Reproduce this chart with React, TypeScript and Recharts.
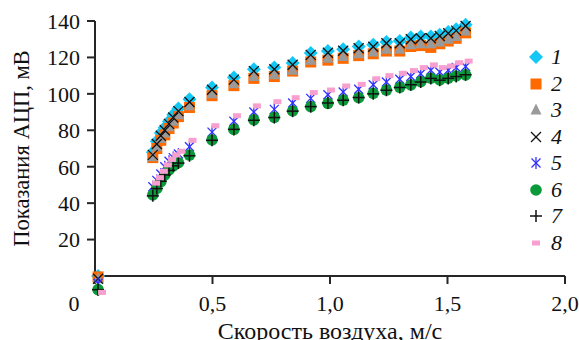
import React from "react";
import { ScatterChart, Scatter, XAxis, YAxis, Legend, Label } from "recharts";

// air speed, m/s (series 1-7 share these)
const SPEED = [0.013, 0.246, 0.263, 0.28, 0.297, 0.315, 0.333, 0.355, 0.402, 0.498, 0.591, 0.676, 0.763, 0.841, 0.918, 0.991, 1.056, 1.122, 1.184, 1.24, 1.297, 1.344, 1.386, 1.429, 1.467, 1.503, 1.537, 1.577];
// series 8 is read slightly to the right
const SPEED_8 = [0.03, 0.26, 0.276, 0.293, 0.31, 0.328, 0.346, 0.368, 0.415, 0.512, 0.604, 0.689, 0.776, 0.854, 0.931, 1.004, 1.069, 1.135, 1.197, 1.253, 1.31, 1.357, 1.399, 1.442, 1.48, 1.516, 1.55, 1.59];

// ADC readings, mV
const S1 = [0, 68, 74, 78.5, 81.5, 85, 88.5, 92, 97, 103.5, 109, 113.5, 114.5, 117, 122.5, 123.5, 124.5, 126, 127, 128.5, 129, 131, 131.5, 131.5, 132.5, 134, 135.5, 138];
const S2 = [-0.5, 65, 70, 74.5, 77.5, 81, 84, 87.5, 92.5, 99, 104.5, 108.5, 109.5, 112.5, 117.5, 118.5, 119.5, 121, 122, 123.5, 123.5, 126, 126.5, 125.5, 127.5, 129, 130.5, 133.5];
const S3 = [-1.5, 65.5, 71, 75.5, 78.5, 82, 85, 88.5, 93.5, 100, 105.5, 109.5, 110.5, 113, 118.5, 119.5, 120.5, 122, 123, 124.5, 124.5, 127, 127.5, 127.5, 128.5, 130, 131.5, 134.5];
const S4 = [-1.5, 66.5, 72.5, 77, 80, 83.5, 87, 90.5, 95.5, 102.3, 107.8, 112.5, 113.5, 116, 121.4, 122.6, 123.7, 125, 125.9, 127.8, 127.8, 130, 130.5, 130.5, 131.8, 133.3, 134.7, 137.3];
const S5 = [-4, 49, 52.5, 56, 60, 63, 65, 67, 71, 79, 85, 90, 91.5, 95, 97.5, 99.5, 101, 102.5, 105, 106.5, 108, 109.5, 111, 113, 112, 113, 114.5, 115];
const S6 = [-7.5, 44.5, 48.1, 51.8, 55.5, 58.2, 60.4, 62.2, 66.4, 74.7, 80.5, 85.7, 87.1, 90.6, 93, 94.8, 96.6, 97.9, 100.3, 102.1, 103.6, 104.9, 106.7, 108.6, 107.6, 108.6, 109.8, 110.4];
const S7 = [-7.5, 44, 48, 52, 55.5, 58, 60.5, 62, 66, 74.5, 80.5, 85.5, 87, 90.5, 93, 95, 96.5, 98, 100, 102, 103.5, 105, 106.5, 108.5, 107.5, 108.5, 109.5, 110.5];
const S8 = [-9, 51, 54, 57.5, 61, 64, 66.5, 68.5, 74.5, 82.5, 88, 93.4, 95.7, 97.9, 100.7, 102.1, 104.3, 105.2, 108.3, 110, 111.3, 112.8, 114.4, 115.9, 114.4, 115.3, 117.1, 118];

const X_TICKS = [0, 0.5, 1, 1.5, 2];
const Y_TICKS = [20, 40, 60, 80, 100, 120, 140];

type Kind = "diamond" | "square" | "triangle" | "cross" | "star" | "circle" | "plus" | "dash";

const SERIES: { name: string; kind: Kind; xs: number[]; ys: number[] }[] = [
  { name: "1", kind: "diamond", xs: SPEED, ys: S1 },
  { name: "2", kind: "square", xs: SPEED, ys: S2 },
  { name: "3", kind: "triangle", xs: SPEED, ys: S3 },
  { name: "4", kind: "cross", xs: SPEED, ys: S4 },
  { name: "5", kind: "star", xs: SPEED, ys: S5 },
  { name: "6", kind: "circle", xs: SPEED, ys: S6 },
  { name: "7", kind: "plus", xs: SPEED, ys: S7 },
  { name: "8", kind: "dash", xs: SPEED_8, ys: S8 },
];

const FONT = '"Liberation Serif", "Times New Roman", serif';
const AXIS = "#262626";

function Marker({ kind, cx, cy }: { kind: Kind; cx: number; cy: number }) {
  switch (kind) {
    case "diamond":
      return <polygon points={`${cx},${cy - 7} ${cx + 7},${cy} ${cx},${cy + 7} ${cx - 7},${cy}`} fill="#14c8f6" />;
    case "square":
      return <rect x={cx - 5.5} y={cy - 5.5} width={11} height={11} fill="#ff6a00" />;
    case "triangle":
      return <polygon points={`${cx},${cy - 6.5} ${cx + 5.5},${cy + 4.5} ${cx - 5.5},${cy + 4.5}`} fill="#9a9a9a" />;
    case "cross":
      return (
        <g stroke="#111" strokeWidth={1.3}>
          <line x1={cx - 5} y1={cy - 5} x2={cx + 5} y2={cy + 5} />
          <line x1={cx - 5} y1={cy + 5} x2={cx + 5} y2={cy - 5} />
        </g>
      );
    case "star":
      return (
        <g stroke="#3030ff" strokeWidth={1.3}>
          <line x1={cx} y1={cy - 6} x2={cx} y2={cy + 6} />
          <line x1={cx - 4.5} y1={cy - 4.5} x2={cx + 4.5} y2={cy + 4.5} />
          <line x1={cx - 4.5} y1={cy + 4.5} x2={cx + 4.5} y2={cy - 4.5} />
        </g>
      );
    case "circle":
      return <circle cx={cx} cy={cy} r={5.8} fill="#0a9a3a" />;
    case "plus":
      return (
        <g stroke="#111" strokeWidth={1.5}>
          <line x1={cx - 6} y1={cy} x2={cx + 6} y2={cy} />
          <line x1={cx} y1={cy - 6} x2={cx} y2={cy + 6} />
        </g>
      );
    default:
      return <rect x={cx - 4} y={cy - 2.5} width={8} height={5} fill="#f7a0cf" />;
  }
}

function XTick({ x, y, payload }: any) {
  const v = payload.value as number;
  const text = v === 0 ? "0" : v.toFixed(1).replace(".", ",");
  return (
    <text x={v === 0 ? x - 21 : x} y={y} dy="0.71em" textAnchor="middle" fontFamily={FONT} fontSize={22} fill="#111">
      {text}
    </text>
  );
}

function LegendBox() {
  return (
    <div style={{ fontFamily: FONT }}>
      {SERIES.map((s) => (
        <div key={s.name} style={{ display: "flex", alignItems: "center", height: 26.5 }}>
          <svg width={20} height={20}>
            <Marker kind={s.kind} cx={10} cy={10} />
          </svg>
          <span style={{ fontSize: 22, fontStyle: "italic", marginLeft: 5, color: "#111", lineHeight: "22px" }}>{s.name}</span>
        </div>
      ))}
    </div>
  );
}

export default function App() {
  return (
    <div style={{ position: "absolute", left: 0, top: 0, width: 579, height: 340, background: "#fff" }}>
      <style>{".recharts-scatter, .recharts-scatter g { clip-path: none; }"}</style>
      <ScatterChart width={579} height={340} margin={{ top: 21, right: 14, bottom: 24, left: 0 }}>
        <XAxis
          type="number"
          dataKey="x"
          domain={[0, 2]}
          ticks={X_TICKS}
          tick={<XTick />}
          tickSize={8}
          tickMargin={11}
          height={40}
          axisLine={{ stroke: AXIS, strokeWidth: 2 }}
          tickLine={{ stroke: AXIS, strokeWidth: 2 }}
        >
          <Label value="Скорость воздуха, м/с" position="bottom" offset={6} style={{ fontFamily: FONT, fontSize: 24, fill: "#111" }} />
        </XAxis>
        <YAxis
          type="number"
          dataKey="y"
          domain={[0, 140]}
          allowDataOverflow
          ticks={Y_TICKS}
          width={95}
          tickSize={8}
          tickMargin={7}
          tick={{ fontFamily: FONT, fontSize: 22, fill: "#111" }}
          axisLine={{ stroke: AXIS, strokeWidth: 2 }}
          tickLine={{ stroke: AXIS, strokeWidth: 2 }}
        >
          <Label
            content={({ viewBox }: any) => (
              <text
                x={21}
                y={viewBox.y + viewBox.height / 2}
                transform={`rotate(-90, 21, ${viewBox.y + viewBox.height / 2})`}
                textAnchor="middle"
                dominantBaseline="central"
                fontFamily={FONT}
                fontSize={22.5}
                fill="#111"
              >
                Показания АЦП, мВ
              </text>
            )}
          />
        </YAxis>
        <Legend
          layout="horizontal"
          align="center"
          verticalAlign="middle"
          content={() => <LegendBox />}
          wrapperStyle={{ position: "absolute", left: 526, top: 44, width: 53 }}
        />
        {SERIES.map((s) => (
          <Scatter
            key={s.name}
            name={s.name}
            data={s.xs.map((x, i) => ({ x, y: s.ys[i] }))}
            isAnimationActive={false}
            shape={(p: any) => <Marker kind={s.kind} cx={p.cx} cy={p.cy} />}
          />
        ))}
      </ScatterChart>
    </div>
  );
}
